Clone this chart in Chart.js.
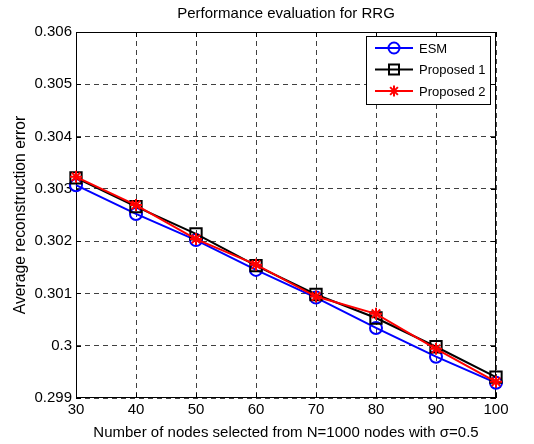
<!DOCTYPE html>
<html lang="en">
<head>
    <meta charset="UTF-8">
    <title>Performance evaluation for RRG</title>
    <script src="https://cdn.jsdelivr.net/npm/chart.js"></script>
    <style>
        html, body { margin: 0; padding: 0; background: #fff; }
    </style>
</head>
<body>
    <canvas id="rrgChart" width="534" height="444"></canvas>

    <script>
        // Data
        const nodes = [30, 40, 50, 60, 70, 80, 90, 100];
        const esm = [0.30307, 0.30252, 0.30202, 0.30145, 0.30092, 0.30034, 0.29979, 0.29929];
        const proposed1 = [0.30321, 0.30266, 0.30214, 0.30153, 0.30098, 0.30053, 0.29998, 0.29940];
        const proposed2 = [0.30323, 0.30269, 0.30204, 0.30155, 0.30094, 0.30061, 0.29994, 0.29931];
        const xTicks = [30, 40, 50, 60, 70, 80, 90, 100];
        const yTicks = [0.299, 0.300, 0.301, 0.302, 0.303, 0.304, 0.305, 0.306];

        const FONT = 'Liberation Sans, Arial, Helvetica, sans-serif';

        function pts(values) {
            return nodes.map((x, i) => ({ x: x, y: values[i] }));
        }

        // MATLAB-like box with inward ticks
        const boxPlugin = {
            id: 'boxPlugin',
            beforeDatasetsDraw(chart) {
                const ctx = chart.ctx;
                const a = chart.chartArea;
                const xs = chart.scales.x, ys = chart.scales.y;
                ctx.save();
                ctx.strokeStyle = '#000';
                ctx.lineWidth = 1;
                ctx.setLineDash([]);
                ctx.strokeRect(a.left + 0.5, a.top + 0.5, a.right - a.left - 1, a.bottom - a.top - 1);
                ctx.beginPath();
                xTicks.forEach(v => {
                    const px = Math.round(xs.getPixelForValue(v)) + 0.5;
                    ctx.moveTo(px, a.bottom); ctx.lineTo(px, a.bottom - 5);
                    ctx.moveTo(px, a.top); ctx.lineTo(px, a.top + 5);
                });
                yTicks.forEach(v => {
                    const py = Math.round(ys.getPixelForValue(v)) + 0.5;
                    ctx.moveTo(a.left, py); ctx.lineTo(a.left + 5, py);
                    ctx.moveTo(a.right, py); ctx.lineTo(a.right - 5, py);
                });
                ctx.stroke();
                ctx.restore();
            }
        };

        // legend drawn inside the plot, top right
        const legendBox = {
            id: 'legendBox',
            afterDraw(chart) {
                const ctx = chart.ctx;
                const x0 = 366, y0 = 36, w = 124, h = 68;
                ctx.save();
                ctx.fillStyle = '#fff';
                ctx.fillRect(x0, y0, w, h);
                ctx.strokeStyle = '#000';
                ctx.lineWidth = 1;
                ctx.strokeRect(x0 + 0.5, y0 + 0.5, w, h);
                chart.data.datasets.forEach((ds, i) => {
                    const y = y0 + 12 + i * 21.5;
                    const cx = x0 + 28;
                    ctx.strokeStyle = ds.borderColor;
                    ctx.lineWidth = 2;
                    ctx.beginPath();
                    ctx.moveTo(x0 + 9, y); ctx.lineTo(x0 + 47, y);
                    ctx.stroke();
                    ctx.beginPath();
                    if (ds.pointStyle === 'circle') {
                        ctx.arc(cx, y, 5.5, 0, Math.PI * 2);
                    } else if (ds.pointStyle === 'rect') {
                        ctx.rect(cx - 5, y - 5, 10, 10);
                    } else {
                        for (let k = 0; k < 4; k++) {
                            const ang = k * Math.PI / 4;
                            ctx.moveTo(cx - 5.5 * Math.cos(ang), y - 5.5 * Math.sin(ang));
                            ctx.lineTo(cx + 5.5 * Math.cos(ang), y + 5.5 * Math.sin(ang));
                        }
                    }
                    ctx.stroke();
                    ctx.fillStyle = '#000';
                    ctx.font = '13px ' + FONT;
                    ctx.textBaseline = 'middle';
                    ctx.fillText(ds.label, x0 + 53, y + 1);
                });
                ctx.restore();
            }
        };

        const rrgChart = new Chart(document.getElementById('rrgChart'), {
            type: 'line',
            data: {
                datasets: [
                    {
                        label: 'ESM',
                        data: pts(esm),
                        borderColor: '#0000ff',
                        pointStyle: 'circle',
                        pointRadius: 6,
                        order: 3
                    },
                    {
                        label: 'Proposed 1',
                        data: pts(proposed1),
                        borderColor: '#000000',
                        pointStyle: 'rect',
                        pointRadius: 8,
                        order: 2
                    },
                    {
                        label: 'Proposed 2',
                        data: pts(proposed2),
                        borderColor: '#ff0000',
                        pointStyle: 'star',
                        pointRadius: 6,
                        order: 1
                    }
                ].map(ds => Object.assign(ds, {
                    borderWidth: 2,
                    pointBorderWidth: 2,
                    pointBorderColor: ds.borderColor,
                    pointBackgroundColor: 'rgba(0,0,0,0)',
                    tension: 0,
                    clip: false
                }))
            },
            options: {
                responsive: false,
                animation: false,
                layout: { padding: { left: 0, right: 38, top: 0, bottom: 0 } },
                plugins: {
                    legend: { display: false },
                    tooltip: { enabled: false },
                    title: {
                        display: true,
                        fullSize: false,
                        text: 'Performance evaluation for RRG',
                        color: '#000',
                        font: { family: FONT, size: 15, weight: 'normal' },
                        padding: { top: 5, bottom: 9 }
                    }
                },
                scales: {
                    x: {
                        type: 'linear',
                        min: 30,
                        max: 100,
                        afterBuildTicks: s => { s.ticks = xTicks.map(v => ({ value: v })); },
                        afterFit: s => { s.height = 46; },
                        grid: { color: 'rgba(0,0,0,0.75)', lineWidth: 1, drawTicks: false },
                        border: { display: false, dash: [5, 4] },
                        ticks: {
                            color: '#000', padding: 3, maxRotation: 0, autoSkip: false,
                            font: { family: FONT, size: 15 }
                        },
                        title: {
                            display: true,
                            text: 'Number of nodes selected from N=1000 nodes with σ=0.5',
                            color: '#000',
                            font: { family: FONT, size: 15 },
                            padding: { top: 0, bottom: 2 }
                        }
                    },
                    y: {
                        type: 'linear',
                        min: 0.299,
                        max: 0.306,
                        afterBuildTicks: s => { s.ticks = yTicks.map(v => ({ value: v })); },
                        afterFit: s => { s.width = 76; },
                        grid: { color: 'rgba(0,0,0,0.75)', lineWidth: 1, drawTicks: false },
                        border: { display: false, dash: [5, 4] },
                        ticks: {
                            color: '#000', padding: 4,
                            font: { family: FONT, size: 15 },
                            callback: v => String(+v.toFixed(3))
                        },
                        title: {
                            display: true,
                            text: 'Average reconstruction error',
                            color: '#000',
                            font: { family: FONT, size: 15.7 },
                            padding: { top: 11, bottom: 0 }
                        }
                    }
                }
            },
            plugins: [boxPlugin, legendBox]
        });
    </script>
</body>
</html>
